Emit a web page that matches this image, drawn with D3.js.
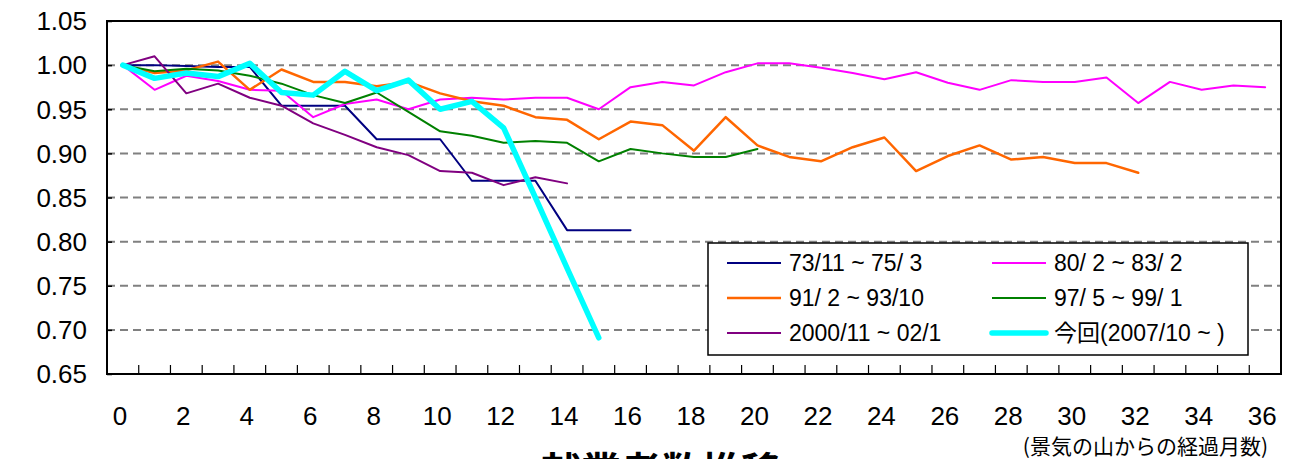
<!DOCTYPE html>
<html lang="ja">
<head>
<meta charset="UTF-8"/>
<title>就業者数推移</title>
<style>
  body { margin: 0; background: #ffffff; }
  svg { display: block; }
  .tick_label { font-family: "Liberation Sans", Arial, sans-serif; font-size: 26px; fill: #000; }
  .legend_text { font-family: "Liberation Sans", Arial, "Noto Sans CJK JP", sans-serif; font-size: 23px; fill: #000; }
  .jp { font-family: "Noto Sans CJK JP", sans-serif; fill: #000; }
</style>
</head>
<body>
<svg width="1292" height="459"></svg>
<script src="https://cdnjs.cloudflare.com/ajax/libs/d3/7.8.5/d3.min.js"></script>
<script>
// months since the business-cycle peak
const months = d3.range(0, 37);
const xTickLabels = ["0","2","4","6","8","10","12","14","16","18","20","22","24","26","28","30","32","34","36"];
const yTickValues = [0.65, 0.70, 0.75, 0.80, 0.85, 0.90, 0.95, 1.00, 1.05];

// series values (index = month)
const s73_75 = [1.000,1.000,0.999,0.998,0.998,0.954,0.954,0.954,0.916,0.916,0.916,0.869,0.869,0.869,0.813,0.813,0.813];
const s80_83 = [1.000,0.972,0.988,0.982,0.972,0.971,0.941,0.956,0.961,0.950,0.961,0.963,0.961,0.963,0.963,0.950,0.975,0.981,0.977,0.992,1.002,1.002,0.997,0.991,0.984,0.992,0.980,0.972,0.983,0.981,0.981,0.986,0.957,0.981,0.972,0.977,0.975];
const s91_93 = [1.000,0.991,0.994,1.004,0.972,0.995,0.981,0.981,0.976,0.981,0.968,0.959,0.954,0.941,0.938,0.916,0.936,0.932,0.903,0.941,0.909,0.896,0.891,0.907,0.918,0.880,0.897,0.909,0.893,0.896,0.889,0.889,0.878];
const s97_99 = [1.000,0.993,0.996,0.994,0.988,0.979,0.966,0.957,0.969,0.947,0.925,0.920,0.912,0.914,0.912,0.891,0.905,0.900,0.896,0.896,0.905];
const s00_02 = [1.000,1.010,0.968,0.979,0.963,0.954,0.934,0.921,0.907,0.898,0.880,0.878,0.864,0.873,0.866];
const sNow   = [1.000,0.985,0.991,0.987,1.002,0.969,0.966,0.993,0.971,0.983,0.950,0.959,0.929,0.850,0.770,0.691];

const seriesNames = ["73/11 ~ 75/ 3", "80/ 2 ~ 83/ 2", "91/ 2 ~ 93/10", "97/ 5 ~ 99/ 1", "2000/11 ~ 02/1", "今回(2007/10 ~ )"];
const seriesValues = [s73_75, s80_83, s91_93, s97_99, s00_02, sNow];
const seriesColors = ["#000080", "#ff00ff", "#ff6600", "#008000", "#800080", "#00ffff"];
const seriesWidths = [2, 2, 2.5, 2, 2, 5.5];

const svg = d3.select('svg');

const plotLeft = 107, plotRight = 1281, plotTop = 21, plotBottom = 374;

const xScale = d3.scaleBand()
  .domain(months)
  .range([plotLeft, plotRight])
  .padding(0);
const xMid = (m) => xScale(m) + xScale.bandwidth() / 2;

const yScale = d3.scaleLinear()
  .domain([0.65, 1.05])
  .range([plotBottom, plotTop]);

// dashed grid
svg.append('g')
  .selectAll('line')
  .data(yTickValues.filter(v => v > 0.66 && v < 1.04))
  .enter()
  .append('line')
  .attr('x1', plotLeft)
  .attr('x2', plotRight)
  .attr('y1', d => yScale(d))
  .attr('y2', d => yScale(d))
  .attr('stroke', '#808080')
  .attr('stroke-width', 2)
  .attr('stroke-dasharray', '8,5');

// plot frame
svg.append('rect')
  .attr('x', plotLeft)
  .attr('y', plotTop)
  .attr('width', plotRight - plotLeft)
  .attr('height', plotBottom - plotTop)
  .attr('fill', 'none')
  .attr('stroke', '#000')
  .attr('stroke-width', 2);

// Y axis (ticks inward, labels placed to the left)
const yAxis = svg.append('g')
  .attr('transform', `translate(${plotLeft},0)`)
  .call(d3.axisRight(yScale).tickValues(yTickValues).tickSize(5).tickFormat(''));
yAxis.select('.domain').remove();
yAxis.selectAll('line').attr('stroke', '#000').attr('stroke-width', 1.5);

svg.append('g')
  .selectAll('text')
  .data(yTickValues)
  .enter()
  .append('text')
  .attr('class', 'tick_label')
  .attr('x', 87)
  .attr('y', d => yScale(d))
  .attr('dy', '0.36em')
  .attr('text-anchor', 'end')
  .text(d => d3.format('.2f')(d));

// X axis: ticks at category boundaries, pointing up
svg.append('g')
  .selectAll('line')
  .data(months.slice(1))
  .enter()
  .append('line')
  .attr('x1', d => xScale(d))
  .attr('x2', d => xScale(d))
  .attr('y1', plotBottom)
  .attr('y2', plotBottom - 9)
  .attr('stroke', '#000')
  .attr('stroke-width', 1.2);

svg.append('g')
  .selectAll('text')
  .data(xTickLabels)
  .enter()
  .append('text')
  .attr('class', 'tick_label')
  .attr('x', d => xMid(+d) - 3)
  .attr('y', 425)
  .attr('text-anchor', 'middle')
  .text(d => d);

svg.append('text')
  .attr('class', 'jp')
  .attr('x', 1268)
  .attr('y', 454)
  .attr('text-anchor', 'end')
  .style('font-size', '21px')
  .text('(景気の山からの経過月数)');

svg.append('text')
  .attr('class', 'jp')
  .attr('x', 661)
  .attr('y', 486)
  .attr('text-anchor', 'middle')
  .style('font-size', '40px')
  .style('font-weight', 'bold')
  .text('就業者数推移');

// lines
const line = d3.line()
  .x((d, i) => xMid(i))
  .y(d => yScale(d));

svg.append('g')
  .selectAll('path')
  .data(seriesValues)
  .enter()
  .append('path')
  .attr('d', d => line(d))
  .attr('fill', 'none')
  .attr('stroke', (d, i) => seriesColors[i])
  .attr('stroke-width', (d, i) => seriesWidths[i])
  .attr('stroke-linejoin', 'round')
  .attr('stroke-linecap', 'round');

// legend
const legend = svg.append('g');
legend.append('rect')
  .attr('x', 708)
  .attr('y', 243)
  .attr('width', 540)
  .attr('height', 112)
  .attr('fill', '#fff')
  .attr('stroke', '#000')
  .attr('stroke-width', 1.5);

const items = legend.selectAll('g.item')
  .data(seriesNames)
  .enter()
  .append('g')
  .attr('class', 'item')
  .attr('transform', (d, i) => `translate(${i % 2 === 0 ? 727 : 992}, ${263 + Math.floor(i / 2) * 35})`);

items.append('line')
  .attr('x1', 0)
  .attr('x2', 54)
  .attr('stroke', (d, i) => seriesColors[i])
  .attr('stroke-width', (d, i) => seriesWidths[i])
  .attr('stroke-linecap', (d, i) => i === 5 ? 'round' : 'butt');

items.append('text')
  .attr('class', 'legend_text')
  .attr('x', 62)
  .attr('dy', '0.36em')
  .text(d => d);
</script>
</body>
</html>
